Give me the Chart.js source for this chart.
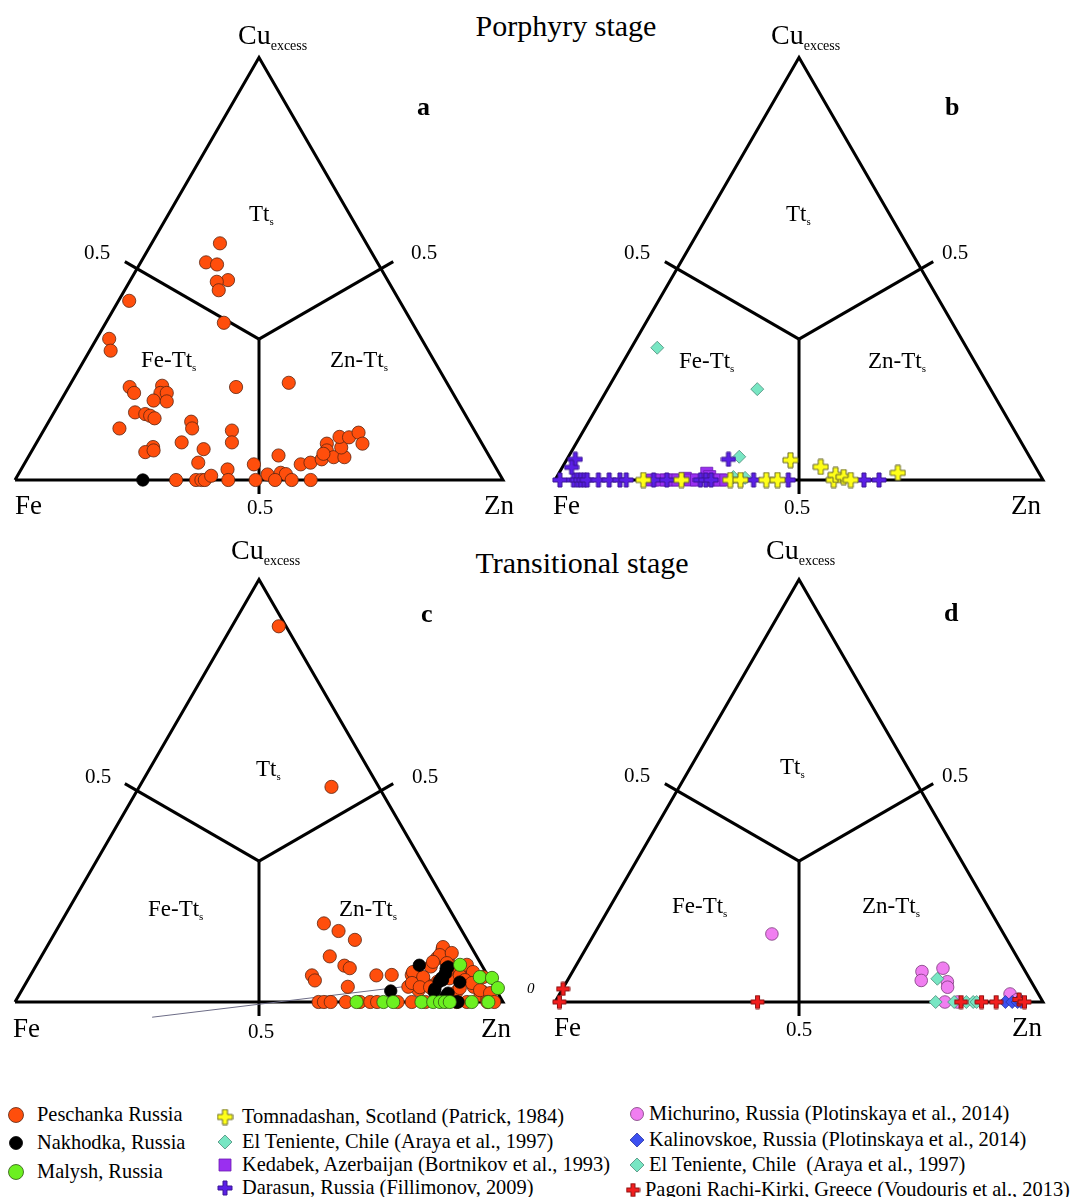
<!DOCTYPE html>
<html>
<head>
<meta charset="utf-8">
<script src="https://cdn.jsdelivr.net/npm/chart.js@4.4.0/dist/chart.umd.min.js"></script>
<style>
  body { margin: 0; background: #fff; }
  #page { position: relative; width: 1073px; height: 1197px; overflow: hidden;
          font-family: "Liberation Serif", "Times New Roman", serif; color: #000; }
  canvas.panel { position: absolute; }
  .title { position: absolute; font-size: 30px; line-height: 30px; white-space: nowrap; transform: translateX(-50%); }
  .legtext { position: absolute; font-size: 20.4px; line-height: 20px; white-space: pre; }
  canvas.mark { position: absolute; }
</style>
</head>
<body>
<div id="page">
  <div class="title" style="left:566px;top:11px">Porphyry stage</div>
  <div class="title" style="left:582px;top:548px">Transitional stage</div>
</div>
<script>
// every pair is [Cu_excess, Zn] as a fraction; Fe = 1 - Cu - Zn

// panel a - porphyry stage
const peschankaA = [
  [0.56, 0.14], [0.515, 0.134], [0.51, 0.159], [0.473, 0.2], [0.469, 0.179], [0.449, 0.193],
  [0.424, 0.022], [0.372, 0.242], [0.334, 0.026], [0.306, 0.043],
  [0.22, 0.125], [0.206, 0.141], [0.223, 0.19], [0.206, 0.195], [0.206, 0.208], [0.186, 0.218], [0.188, 0.19],
  [0.22, 0.343], [0.23, 0.446],
  [0.16, 0.166], [0.156, 0.189], [0.152, 0.201], [0.146, 0.213], [0.122, 0.153],
  [0.138, 0.292], [0.122, 0.302], [0.117, 0.386], [0.089, 0.4], [0.089, 0.297],
  [0.078, 0.244], [0.066, 0.234], [0.07, 0.249], [0.073, 0.35], [0.041, 0.355], [0.025, 0.423], [0.037, 0.471],
  [0.058, 0.511], [0.013, 0.511], [0.017, 0.536], [0.014, 0.548],
  [0.037, 0.567], [0.041, 0.585], [0.049, 0.604], [0.086, 0.596], [0.07, 0.604], [0.054, 0.626], [0.054, 0.648],
  [0.077, 0.63], [0.102, 0.614], [0.101, 0.634], [0.112, 0.648], [0.086, 0.669], [0.062, 0.601],
  [0, 0.33], [0, 0.371], [0, 0.382], [0, 0.389], [0.01, 0.397], [0, 0.437], [0, 0.493], [0, 0.533], [0, 0.567], [0, 0.606]
];
const nakhodkaA = [[0, 0.262]];

// panel b - porphyry stage, other deposits
const kedabekB = [
  [0, 0.2], [0, 0.215], [0, 0.228], [0, 0.24], [0, 0.252], [0.004, 0.265], [0, 0.278],
  [0, 0.29], [0.016, 0.303], [0.008, 0.313], [0, 0.325], [0, 0.338], [0, 0.35]
];
const elTenienteB = [[0.313, 0.053], [0.215, 0.307], [0.055, 0.35], [0.007, 0.362], [0.005, 0.387]];
const darasunB = [
  [0, 0.01], [0, 0.038], [0, 0.046], [0, 0.053], [0, 0.06], [0, 0.066], [0, 0.089], [0, 0.111], [0, 0.133],
  [0, 0.146], [0, 0.202], [0, 0.229], [0, 0.298], [0, 0.309], [0, 0.32], [0, 0.407], [0, 0.478], [0, 0.633], [0, 0.664],
  [0.049, 0.017], [0.03, 0.019], [0.049, 0.331]
];
const tomnadashanB = [
  [0, 0.181], [0, 0.259], [0, 0.359], [0, 0.38], [0, 0.433], [0, 0.456], [0.047, 0.459], [0.031, 0.529],
  [0, 0.571], [0.012, 0.569], [0.007, 0.588], [0, 0.606], [0.017, 0.694]
];

// panel c - transitional stage
const peschankaC = [
  [0.889, 0.096], [0.509, 0.394], [0.186, 0.54], [0.168, 0.579], [0.147, 0.623], [0.108, 0.591],
  [0.086, 0.632], [0.08, 0.646], [0.063, 0.577], [0.051, 0.589], [0.036, 0.664], [0.063, 0.709], [0.064, 0.74],
  [0.064, 0.781], [0.124, 0.814], [0.104, 0.813], [0.104, 0.835], [0.084, 0.81], [0.084, 0.855], [0.08, 0.879],
  [0.056, 0.802], [0.04, 0.825], [0.028, 0.813], [0.048, 0.842], [0.056, 0.862], [0.056, 0.901], [0.036, 0.922],
  [0.024, 0.946], [0.024, 0.893], [0.071, 0.849], [0.063, 0.88], [0.016, 0.946], [0.008, 0.964], [0.036, 0.788],
  [0.13, 0.812], [0.111, 0.815], [0.116, 0.837], [0.095, 0.809], [0.092, 0.839], [0.088, 0.882], [0.071, 0.903],
  [0.059, 0.93], [0.071, 0.78], [0.059, 0.807], [0.045, 0.791], [0.035, 0.812], [0.035, 0.833], [0.052, 0.896],
  [0.045, 0.914], [0.028, 0.939], [0.021, 0.963], [0.033, 0.895],
  [0, 0.622], [0, 0.633], [0, 0.647], [0, 0.678], [0, 0.707], [0, 0.728], [0, 0.742], [0, 0.784], [0, 0.813],
  [0, 0.841], [0, 0.905], [0, 0.926], [0, 0.968], [0, 0.982]
];
const nakhodkaC = [
  [0.087, 0.785], [0.026, 0.757], [0.079, 0.844], [0.052, 0.85], [0.048, 0.845], [0.047, 0.888],
  [0.024, 0.847], [0.014, 0.876], [0, 0.905], [0.068, 0.848], [0.083, 0.846], [0.057, 0.846],
  [0.031, 0.845], [0.021, 0.877], [0, 0.908]
];
const malyshC = [
  [0.088, 0.868], [0.059, 0.923], [0.057, 0.949], [0.033, 0.973],
  [0, 0.7], [0, 0.755], [0, 0.775], [0, 0.833], [0, 0.857], [0, 0.871], [0, 0.881], [0, 0.891], [0, 0.936], [0, 0.97]
];
// stray thin stroke left in the original figure
const strayLineC = [[-0.036, 0.299], [0.038, 0.79]];

// panel d - transitional stage, other deposits
const michurinoD = [
  [0.161, 0.364], [0.072, 0.716], [0.051, 0.725], [0.08, 0.755], [0.048, 0.78], [0.035, 0.787],
  [0, 0.799], [0, 0.825], [0.019, 0.923], [0.006, 0.945]
];
const elTenienteD = [[0.055, 0.756], [0, 0.78], [0, 0.818], [0, 0.843], [0, 0.857], [0, 0.864]];
const kalinovskoeD = [[0, 0.923], [0, 0.937], [0, 0.948], [0, 0.955]];
const pagoniD = [[0.031, 0.001], [0, 0.009], [0, 0.415], [0, 0.832], [0, 0.874], [0, 0.904], [0.006, 0.948], [0, 0.962]];

// text
const cornerLabels = ['Cu', 'excess', 'Fe', 'Zn'];
const fieldLabels = ['Tt', 'Fe-Tt', 'Zn-Tt'];
const tickLabel = '0.5';
const panelLetters = ['a', 'b', 'c', 'd'];
const legendNames = [
  ['Peschanka Russia', 'Nakhodka, Russia', 'Malysh, Russia'],
  ['Tomnadashan, Scotland (Patrick, 1984)', 'El Teniente, Chile (Araya et al., 1997)',
   'Kedabek, Azerbaijan (Bortnikov et al., 1993)', 'Darasun, Russia (Fillimonov, 2009)'],
  ['Michurino, Russia (Plotinskaya et al., 2014)', 'Kalinovskoe, Russia (Plotinskaya et al., 2014)',
   'El Teniente, Chile  (Araya et al., 1997)', 'Pagoni Rachi-Kirki, Greece (Voudouris et al., 2013)']
];

const SERIF = '"Liberation Serif", "Times New Roman", serif';
const H = Math.sqrt(3) / 2;
const SIDE = 488;   // px per unit side

function tern(cu, zn) {
  return { x: zn + cu / 2, y: cu * H };
}

function plusImage(size, arm, fill, stroke) {
  const c = document.createElement('canvas');
  c.width = c.height = size + 2;
  const g = c.getContext('2d');
  const m = (size + 2) / 2, h = size / 2, a = arm / 2;
  g.beginPath();
  g.moveTo(m - a, m - h); g.lineTo(m + a, m - h); g.lineTo(m + a, m - a); g.lineTo(m + h, m - a);
  g.lineTo(m + h, m + a); g.lineTo(m + a, m + a); g.lineTo(m + a, m + h); g.lineTo(m - a, m + h);
  g.lineTo(m - a, m + a); g.lineTo(m - h, m + a); g.lineTo(m - h, m - a); g.lineTo(m - a, m - a);
  g.closePath();
  g.fillStyle = fill; g.fill();
  g.lineWidth = 1; g.strokeStyle = stroke; g.stroke();
  return c;
}

const STYLE = {
  peschanka: { pointStyle: 'circle', pointRadius: 6.6, backgroundColor: '#ff4e0c', borderColor: '#5a2410', borderWidth: 0.8 },
  nakhodka: { pointStyle: 'circle', pointRadius: 6.2, backgroundColor: '#000', borderColor: '#000', borderWidth: 0.8 },
  malysh: { pointStyle: 'circle', pointRadius: 6.6, backgroundColor: '#6cf020', borderColor: '#2e5512', borderWidth: 0.8 },
  tomnadashan: { pointStyle: plusImage(15, 5, '#ffff18', '#66662a'), pointRadius: 7 },
  elTeniente: { pointStyle: 'rectRot', pointRadius: 6.5, backgroundColor: '#78e6c3', borderColor: '#4c8c7a', borderWidth: 0.8 },
  kedabek: { pointStyle: 'rect', pointRadius: 8.5, backgroundColor: '#9a2ff0', borderColor: '#6a1cb0', borderWidth: 0.8 },
  darasun: { pointStyle: plusImage(14, 4, '#5a1fe6', '#3a1496'), pointRadius: 6 },
  michurino: { pointStyle: 'circle', pointRadius: 6.3, backgroundColor: '#f07ef0', borderColor: '#7a3a7a', borderWidth: 0.8 },
  kalinovskoe: { pointStyle: 'rectRot', pointRadius: 6.5, backgroundColor: '#3c50f0', borderColor: '#2a34a0', borderWidth: 0.8 },
  pagoni: { pointStyle: plusImage(13, 4, '#f21e1e', '#8a1212'), pointRadius: 6 }
};

// label positions are page pixels (left edge, baseline)
function panelLabels(o) {
  const L = [];
  L.push({ t: cornerLabels[0], sub: cornerLabels[1], x: o.cu[0], y: o.cu[1], size: 28, subSize: 14, subDy: 6 });
  L.push({ t: cornerLabels[2], x: o.fe[0], y: o.fe[1], size: 27 });
  L.push({ t: cornerLabels[3], x: o.zn[0], y: o.zn[1], size: 27 });
  o.ticks.forEach(p => L.push({ t: tickLabel, x: p[0], y: p[1], size: 21 }));
  o.fields.forEach((p, i) => L.push({ t: fieldLabels[i], sub: 's', x: p[0], y: p[1], size: 23, subSize: 11, subDy: 4 }));
  L.push({ t: o.letter, x: o.let[0], y: o.let[1], size: 26, bold: true });
  (o.extra || []).forEach(e => L.push(e));
  return L;
}

const textPlugin = {
  id: 'panelText',
  afterDraw(chart, args, opts) {
    const ctx = chart.ctx;
    ctx.save();
    ctx.fillStyle = '#000';
    ctx.textBaseline = 'alphabetic';
    ctx.textAlign = 'left';
    opts.items.forEach(it => {
      const x = it.x - opts.left, y = it.y - opts.top;
      ctx.font = (it.italic ? 'italic ' : '') + (it.bold ? 'bold ' : '') + it.size + 'px ' + SERIF;
      ctx.fillText(it.t, x, y);
      if (it.sub) {
        const w = ctx.measureText(it.t).width;
        ctx.font = it.subSize + 'px ' + SERIF;
        ctx.fillText(it.sub, x + w, y + it.subDy);
      }
    });
    ctx.restore();
  }
};

const panels = [
  { left: 0, top: 0, width: 535,
    series: [[nakhodkaA, STYLE.nakhodka], [peschankaA, STYLE.peschanka]],
    labels: panelLabels({ cu: [238, 44], fe: [15, 514], zn: [484, 514],
      ticks: [[247, 514], [84, 259], [411, 259]],
      fields: [[249, 221], [141, 367], [330, 367]], letter: panelLetters[0], let: [417, 115] }) },
  { left: 540, top: 0, width: 533,
    series: [[tomnadashanB, STYLE.tomnadashan], [darasunB, STYLE.darasun], [elTenienteB, STYLE.elTeniente], [kedabekB, STYLE.kedabek]],
    labels: panelLabels({ cu: [771, 44], fe: [553, 514], zn: [1011, 514],
      ticks: [[784, 514], [624, 259], [942, 259]],
      fields: [[786, 221], [679, 368], [868, 368]], letter: panelLetters[1], let: [945, 115] }) },
  { left: 0, top: 522, width: 540,
    series: [[malyshC, STYLE.malysh], [nakhodkaC, STYLE.nakhodka], [peschankaC, STYLE.peschanka]],
    stray: strayLineC,
    labels: panelLabels({ cu: [231, 559], fe: [13, 1037], zn: [481, 1037],
      ticks: [[248, 1038], [85, 783], [412, 783]],
      fields: [[256, 776], [148, 916], [339, 916]], letter: panelLetters[2], let: [421, 622],
      extra: [{ t: '0', x: 527, y: 993, size: 15, italic: true }] }) },
  { left: 540, top: 522, width: 533,
    series: [[pagoniD, STYLE.pagoni], [kalinovskoeD, STYLE.kalinovskoe], [elTenienteD, STYLE.elTeniente], [michurinoD, STYLE.michurino]],
    labels: panelLabels({ cu: [766, 559], fe: [554, 1036], zn: [1012, 1036],
      ticks: [[786, 1036], [624, 782], [942, 782]],
      fields: [[780, 774], [672, 913], [862, 913]], letter: panelLetters[3], let: [944, 621] }) }
];

// triangle frame and the three field boundaries (extended a little past the 0.5 marks)
const outline = [[0, 0], [0, 1], [1, 0], [0, 0]];
const centre = [1 / 3, 1 / 3];
const bounds = [[centre, [0.5167, -0.0333]], [centre, [0.5167, 0.5167]], [centre, [-0.0333, 0.5167]]];

function lineSet(pairs, width, color) {
  return {
    data: pairs.map(p => tern(p[0], p[1])),
    showLine: true, pointRadius: 0, borderColor: color, borderWidth: width,
    borderJoinStyle: 'miter', borderCapStyle: 'butt', fill: false, order: 100, clip: false
  };
}

const page = document.getElementById('page');
const CH = 530;

panels.forEach(p => {
  const cv = document.createElement('canvas');
  cv.width = p.width; cv.height = CH;
  cv.className = 'panel';
  cv.style.left = p.left + 'px';
  cv.style.top = p.top + 'px';
  page.appendChild(cv);

  const datasets = p.series.map((s, i) => Object.assign({
    data: s[0].map(d => tern(d[0], d[1])), order: i, clip: false
  }, s[1]));
  datasets.push(lineSet(outline, 3, '#000'));
  bounds.forEach(b => datasets.push(lineSet(b, 3, '#000')));
  if (p.stray) datasets.push(Object.assign(lineSet(p.stray, 1, '#6c6c86'), { order: 50 }));

  new Chart(cv, {
    type: 'scatter',
    data: { datasets },
    options: {
      responsive: false,
      animation: false,
      devicePixelRatio: 1,
      layout: { padding: 0, autoPadding: false },
      events: [],
      scales: {
        x: { type: 'linear', display: false, min: -15 / SIDE, max: (p.width - 15) / SIDE },
        y: { type: 'linear', display: false, min: -50 / SIDE, max: 480 / SIDE }
      },
      plugins: {
        legend: { display: false },
        tooltip: { enabled: false },
        panelText: { left: p.left, top: p.top, items: p.labels }
      }
    },
    plugins: [textPlugin]
  });
});

// legend
const legendStyles = [
  [STYLE.peschanka, STYLE.nakhodka, STYLE.malysh],
  [STYLE.tomnadashan, STYLE.elTeniente, STYLE.kedabek, STYLE.darasun],
  [STYLE.michurino, STYLE.kalinovskoe, STYLE.elTeniente, STYLE.pagoni]
];
const legendLayout = [
  { mx: 16, tx: 37, base: [1121, 1149, 1178], r: [7.5, 6.5, 7.5] },
  { mx: 225, tx: 242, base: [1123, 1148, 1171, 1194], r: [8, 7, 6, 7] },
  { mx: 637, tx: 649, base: [1120, 1146, 1171, 1196], r: [6.5, 7, 7, 6] }
];

function drawMarker(g, st, cx, cy, r) {
  if (st.pointStyle instanceof HTMLCanvasElement) {
    const w = st.pointStyle.width;
    g.drawImage(st.pointStyle, cx - w / 2, cy - w / 2);
    return;
  }
  g.beginPath();
  if (st.pointStyle === 'circle') g.arc(cx, cy, r, 0, Math.PI * 2);
  else if (st.pointStyle === 'rectRot') {
    g.moveTo(cx, cy - r); g.lineTo(cx + r, cy); g.lineTo(cx, cy + r); g.lineTo(cx - r, cy); g.closePath();
  } else g.rect(cx - r, cy - r, 2 * r, 2 * r);
  g.fillStyle = st.backgroundColor; g.fill();
  g.lineWidth = 0.8; g.strokeStyle = st.borderColor; g.stroke();
}

legendNames.forEach((col, ci) => {
  const lay = legendLayout[ci];
  col.forEach((name, ri) => {
    const b = lay.base[ri];
    const mk = document.createElement('canvas');
    mk.width = 22; mk.height = 22; mk.className = 'mark';
    mk.style.left = (lay.mx - 11 - (ci === 2 && ri === 3 ? 4 : 0)) + 'px';
    mk.style.top = (b - 6 - 11) + 'px';
    page.appendChild(mk);
    drawMarker(mk.getContext('2d'), legendStyles[ci][ri], 11, 11, lay.r[ri]);
    const t = document.createElement('div');
    t.className = 'legtext';
    t.style.left = (ci === 2 && ri === 3 ? lay.tx - 4 : lay.tx) + 'px';
    t.style.top = (b - 17) + 'px';
    t.textContent = name;
    page.appendChild(t);
  });
});
</script>
</body>
</html>
